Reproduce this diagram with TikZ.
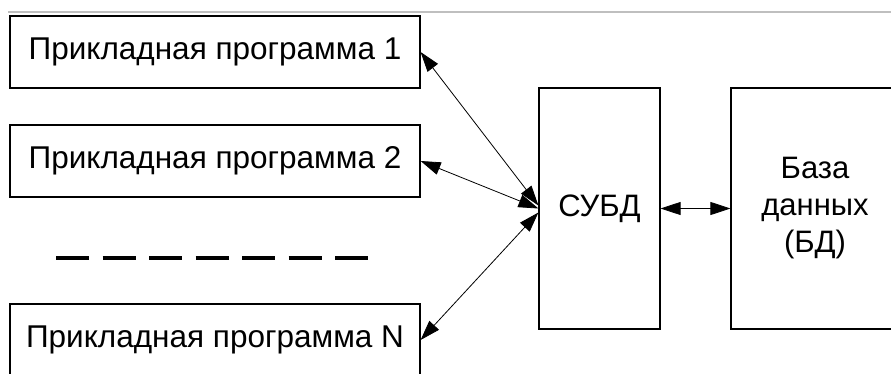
\documentclass[tikz,border=0pt]{standalone}
\usepackage{fontspec}
\setmainfont{Liberation Sans}
\usetikzlibrary{arrows.meta}

\begin{document}
\begin{tikzpicture}[x=1pt, y=-1pt,
        prog/.style = {draw, line width=1.2pt, minimum width=410pt, minimum height=72pt, inner sep=0pt, font=\fontsize{31.5}{37}\selectfont},
        block/.style = {draw, line width=1.2pt, minimum height=241pt, inner sep=0pt, align=center, font=\fontsize{31}{37}\selectfont},
        link/.style = {line width=0.8pt, {Triangle[length=20pt,width=13pt]}-{Triangle[length=20pt,width=13pt]}}]
                \useasboundingbox (0,0) rectangle (891,374);
                \draw [black!25, line width=1.5pt] (8,12) -- (891,12);

                \node[prog] at (215, 52) (P1) {Прикладная программа 1};
                \node[prog] at (215, 161) (P2) {Прикладная программа 2};
                \node[prog] at (215, 340) (PN) {Прикладная программа N};
                \node[block, minimum width=121pt] at (599.5, 208.5) (DBMS) {СУБД};
                \node[block, minimum width=168pt] at (815, 208.5) (DB) {База\\данных\\(БД)};

                % dashes
                \draw [line width=4pt, dash pattern=on 33pt off 13.5pt] (56,258) -- (368,258);

                \draw [link] (P1.east) -- ([yshift=3pt]DBMS.west);
                \draw [link] (P2.east) -- ([yshift=0pt]DBMS.west);
                \draw [link] (PN.east) -- ([yshift=-4pt]DBMS.west);
                \draw [link] (DBMS.east) -- (DB.west);
            \end{tikzpicture}
\end{document}
